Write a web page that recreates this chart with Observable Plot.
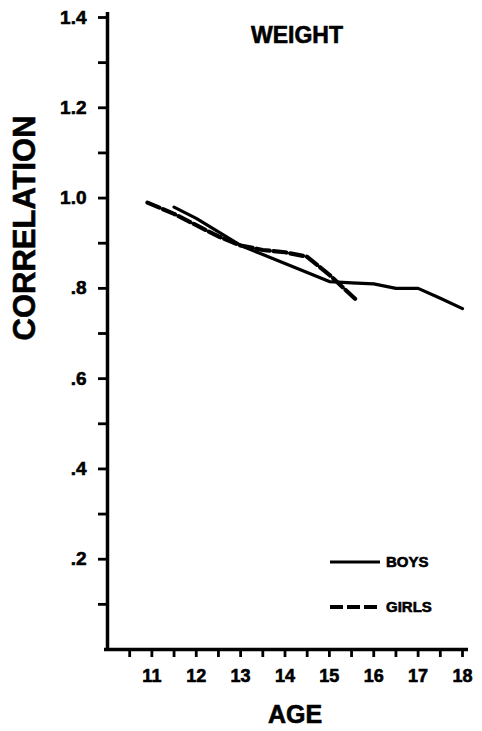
<!DOCTYPE html>
<html>
<head>
<meta charset="utf-8">
<script src="https://cdn.jsdelivr.net/npm/d3@7"></script>
<script src="https://cdn.jsdelivr.net/npm/@observablehq/plot@0.6"></script>
<style>
  html, body { margin: 0; padding: 0; background: #fff; }
  #chart svg { display: block; }
  #chart svg text { font-weight: bold; stroke: #000; stroke-width: 0.6px; }
  #chart svg g[aria-label="y-axis tick"] path,
  #chart svg g[aria-label="x-axis tick"] path { stroke-width: 2.8px; stroke: #000; }
</style>
</head>
<body>
<div id="chart"></div>
<script>
// Data
const boysAge  = [11.5, 12, 12.5, 13, 13.5, 14, 14.5, 15, 15.5, 16, 16.5, 17, 17.5, 18];
const boysCorr = [0.98, 0.955, 0.925, 0.895, 0.875, 0.855, 0.835, 0.815, 0.812, 0.81, 0.80, 0.80, 0.778, 0.755];
const girlsAge  = [10.9, 11.5, 12, 12.5, 13, 13.5, 14, 14.5, 15, 15.6];
const girlsCorr = [0.99, 0.965, 0.94, 0.915, 0.895, 0.885, 0.88, 0.87, 0.83, 0.775];

const yTicks = [0.1, 0.2, 0.3, 0.4, 0.5, 0.6, 0.7, 0.8, 0.9, 1.0, 1.1, 1.2, 1.3, 1.4];
const yLabels = {0.2: ".2", 0.4: ".4", 0.6: ".6", 0.8: ".8", 1.0: "1.0", 1.2: "1.2", 1.4: "1.4"};
const xTicks = [10.5, 11, 11.5, 12, 12.5, 13, 13.5, 14, 14.5, 15, 15.5, 16, 16.5, 17, 17.5, 18];
const xLabels = [11, 12, 13, 14, 15, 16, 17, 18];

const titleText = "WEIGHT";
const xTitle = "AGE";
const yTitle = "CORRELATION";
const seriesNames = ["BOYS", "GIRLS"];

const boys = boysAge.map((a, i) => ({age: a, r: boysCorr[i]}));
const girls = girlsAge.map((a, i) => ({age: a, r: girlsCorr[i]}));

const FONT = "'Liberation Sans', Arial, Helvetica, sans-serif";

function legendMark(index, scales, values, dims) {
  const g = d3.create("svg:g")
    .attr("font-family", FONT)
    .attr("font-weight", "bold")
    .attr("font-size", 15)
    .attr("text-anchor", "start");
  const right = dims.width - dims.marginRight;
  const bottom = dims.height - dims.marginBottom;
  const rows = [
    {name: seriesNames[0], dy: -87, dash: null, w: 3.2},
    {name: seriesNames[1], dy: -42, dash: "13,4", w: 4}
  ];
  for (const r of rows) {
    g.append("line")
      .attr("x1", right - 132).attr("x2", right - 82)
      .attr("y1", bottom + r.dy).attr("y2", bottom + r.dy)
      .attr("stroke", "black").attr("stroke-width", r.w)
      .attr("stroke-dasharray", r.dash);
    g.append("text")
      .attr("x", right - 76).attr("y", bottom + r.dy)
      .attr("dy", "0.36em")
      .attr("text-anchor", "start")
      .attr("fill", "black")
      .text(r.name);
  }
  return g.node();
}

const chart = Plot.plot({
  width: 482,
  height: 731,
  marginLeft: 107,
  marginRight: 20,
  marginTop: 17,
  marginBottom: 82,
  style: {fontFamily: FONT, background: "white", color: "black", fontWeight: "bold"},
  x: {domain: [10, 18]},
  y: {domain: [0, 1.4]},
  marks: [
    Plot.axisY({
      ticks: yTicks,
      tickFormat: d => yLabels[Math.round(d * 10) / 10] ?? "",
      tickSize: 9,
      tickPadding: 12,
      strokeWidth: 2.5,
      fontSize: 19,
      fontWeight: "bold",
      label: null
    }),
    Plot.axisX({
      ticks: xTicks,
      tickFormat: d => xLabels.includes(d) ? String(d) : "",
      tickSize: 8,
      tickPadding: 12,
      strokeWidth: 2.5,
      fontSize: 18,
      fontWeight: "bold",
      label: null
    }),
    Plot.ruleX([10], {strokeWidth: 3.5, insetTop: -5, insetBottom: -1}),
    Plot.ruleY([0], {strokeWidth: 3.5, insetLeft: -3, insetRight: -6}),
    Plot.line(boys, {x: "age", y: "r", stroke: "black", strokeWidth: 3.2}),
    Plot.line(girls, {x: "age", y: "r", stroke: "black", strokeWidth: 4.2, strokeDasharray: "13,4"}),
    Plot.text([titleText], {frameAnchor: "top", dx: 12, dy: 9, fontSize: 23, fontWeight: "bold", lineAnchor: "top", fill: "black", letterSpacing: 1}),
    Plot.text([yTitle], {frameAnchor: "left", rotate: -90, dx: -82, dy: 7, fontSize: 31, fontWeight: "bold", fill: "black", lineAnchor: "middle"}),
    Plot.text([xTitle], {frameAnchor: "bottom", dx: 10, dy: 65, fontSize: 25, fontWeight: "bold", fill: "black", lineAnchor: "middle", letterSpacing: 1}),
    legendMark
  ]
});
document.getElementById("chart").appendChild(chart);
</script>
</body>
</html>
